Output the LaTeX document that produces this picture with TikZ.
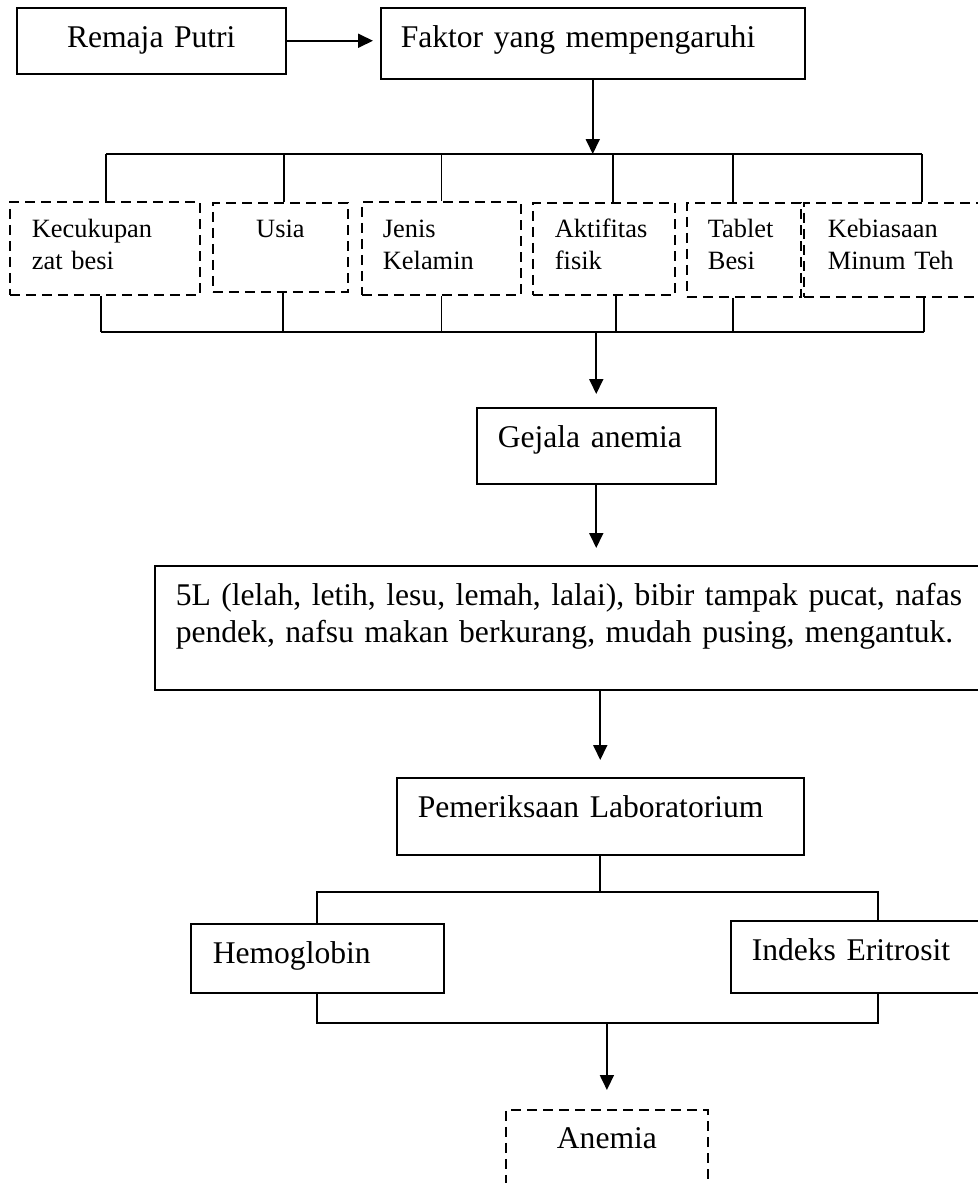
\documentclass[tikz,border=0pt]{standalone}
\usepackage{fontspec}
\setmainfont{Liberation Serif}
\usetikzlibrary{arrows.meta,calc}
\newcommand{\bigfont}{\fontsize{15.8pt}{18.5pt}\selectfont}
\newcommand{\smallfont}{\fontsize{13.2pt}{16pt}\selectfont}

\begin{document}
\begin{tikzpicture}[
  x=0.5pt, y=-0.5pt,
  font=\bigfont,
  box/.style={draw, line width=0.75pt, inner ysep=0pt, anchor=north west, align=left},
  dbox/.style={box, line width=0.9pt, dash pattern=on 5pt off 3pt, font=\smallfont},
  ln/.style={line width=0.9pt},
  arr/.style={ln, -{Triangle[length=7.5pt, width=7pt]}},
]
\useasboundingbox (0,0) rectangle (978,1183);
\clip (0,0) rectangle (978,1183);

% top row
\node[box, text width=134.5pt, inner xsep=0pt, align=center, text height=20pt, text depth=13pt] (rp) at (16,7) {Remaja Putri};
\node[box, text width=192pt, inner xsep=10pt, text height=20pt, text depth=15.5pt] (fk) at (380,7) {Faktor yang mempengaruhi};

% factors (dashed)
\node[dbox, text width=73pt, inner xsep=11pt, text height=18pt, text depth=28.5pt] (k1) at (9,201) {Kecukupan\\zat besi};
\node[dbox, text width=67.5pt, inner xsep=0pt, align=center, text height=17.5pt, text depth=27pt] (k2) at (212,202) {Usia};
\node[dbox, text width=58.5pt, inner xsep=10.5pt, text height=18pt, text depth=28.5pt] (k3) at (361,201) {Jenis\\Kelamin};
\node[dbox, text width=49pt, inner xsep=11pt, text height=17.5pt, text depth=28.5pt] (k4) at (532,202) {Aktifitas\\fisik};
\node[dbox, text width=36pt, inner xsep=10.5pt, text height=17.5pt, text depth=29.5pt] (k5) at (686,202) {Tablet\\Besi};
\node[dbox, text width=94pt, inner xsep=12pt, text height=17.5pt, text depth=29.5pt] (k6) at (803,202) {Kebiasaan\\Minum Teh};

% symptoms
\node[box, text width=98.5pt, inner xsep=10.5pt, text height=20pt, text depth=18pt] (gj) at (476,407) {Gejala anemia};
\node[box, text width=412.5pt, inner xsep=10.5pt, text height=20pt, text depth=42pt] (gl) at (154,565) {5L (lelah, letih, lesu, lemah, lalai), bibir tampak pucat, nafas\\pendek, nafsu makan berkurang, mudah pusing, mengantuk.};

% laboratory
\node[box, text width=182.5pt, inner xsep=10.5pt, text height=20pt, text depth=18.5pt] (pl) at (396,777) {Pemeriksaan Laboratorium};
\node[box, text width=104.5pt, inner xsep=11pt, text height=20pt, text depth=14.5pt] (hb) at (190,923) {Hemoglobin};
\node[box, text width=126pt, inner xsep=10.5pt, text height=20pt, text depth=16pt] (ie) at (730,920) {Indeks Eritrosit};
\node[dbox, font=\bigfont, text width=101pt, inner xsep=0pt, align=center, text height=19.5pt, text depth=26pt] (an) at (505,1109) {Anemia};

% bars
\coordinate (tbar) at (0,154);
\coordinate (bbar) at (0,332);
\coordinate (lbar) at (0,892);
\coordinate (mbar) at (0,1023);

\draw[arr, shorten >=3.5pt] (rp.east) -- (rp.east -| fk.west);
\draw[arr] (fk.south) -- (fk.south |- tbar);
\draw[ln] ($(k1.north |- tbar)+(1,0)$) -- (k6.north |- tbar);
\foreach \n/\dt/\db in {k1/1/-4, k2/3.5/2.5, k3/0/0, k4/9/12, k5/-11/-11, k6/0/2} {
  \draw[ln] ($(\n.north)+(\dt,0)$) -- ($(\n.north |- tbar)+(\dt,0)$);
  \draw[ln] ($(\n.south)+(\db,0)$) -- ($(\n.south |- bbar)+(\db,0)$);
}
\draw[ln] ($(k1.south |- bbar)+(-4,0)$) -- ($(k6.south |- bbar)+(2,0)$);
\draw[arr, shorten >=6.5pt] (gj.north |- bbar) -- (gj.north);
\draw[arr, shorten >=8.5pt] (gj.south) -- (gj.south |- gl.north);
\draw[arr, shorten >=8.5pt] (pl.north |- gl.south) -- (pl.north);
\draw[ln] (pl.south) -- (pl.south |- lbar);
\draw[ln] (hb.north) -- (hb.north |- lbar) -- (ie.north |- lbar) -- (ie.north);
\draw[ln] (hb.south) -- (hb.south |- mbar) -- (ie.south |- mbar) -- (ie.south);
\draw[arr, shorten >=9.5pt] (an.north |- mbar) -- (an.north);
\end{tikzpicture}
\end{document}
